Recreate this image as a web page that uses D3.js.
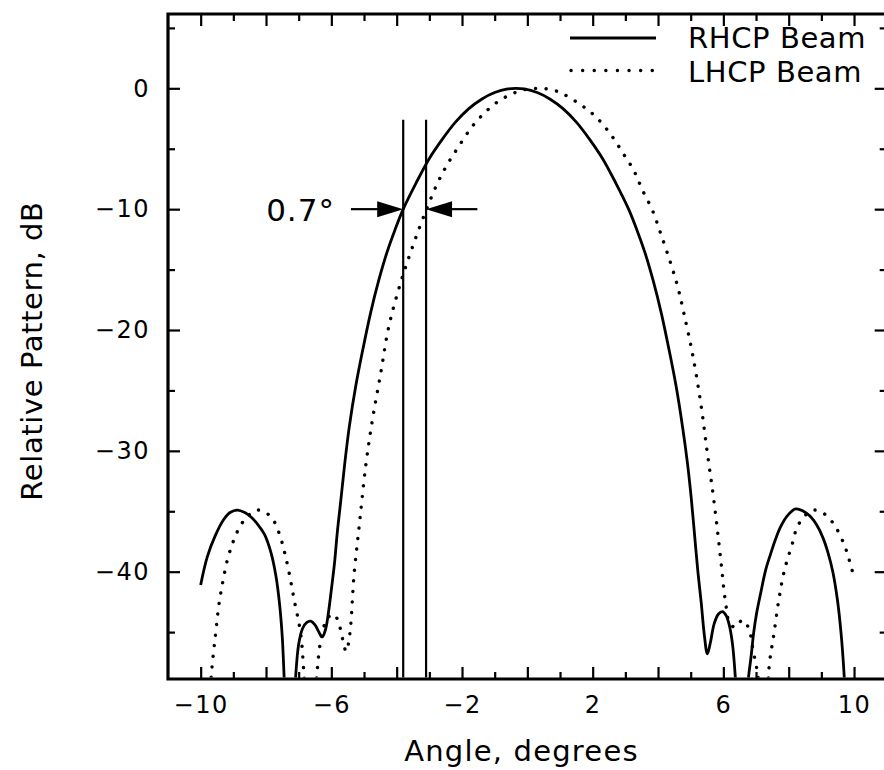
<!DOCTYPE html>
<html>
<head>
<meta charset="utf-8">
<script src="https://cdn.jsdelivr.net/npm/d3@7"></script>
<style>
  html, body { margin: 0; padding: 0; background: #fff; overflow: hidden; }
  svg { display: block; overflow: hidden; }
  text { font-family: "DejaVu Sans", sans-serif; fill: #000; }
</style>
</head>
<body>
<svg id="chart" width="884" height="770"></svg>
<script>
// ---------------- data ----------------
const seriesNames = ["RHCP Beam", "LHCP Beam"];

// RHCP beam: [angle (deg), relative pattern (dB)]
const rhcpBeam = [
  [-10.0,-41.1],[-9.8,-38.8],[-9.55,-37.0],[-9.3,-35.7],[-9.1,-35.1],[-8.88,-34.9],[-8.65,-35.1],
  [-8.45,-35.5],[-8.25,-36.1],[-8.05,-36.9],[-7.85,-38.4],[-7.7,-40.3],[-7.58,-42.8],[-7.5,-45.5],
  [-7.44,-49.0],[-7.27,-58],[-7.1,-49.0],[-7.0,-46.0],[-6.88,-44.7],[-6.75,-44.2],[-6.63,-44.1],
  [-6.5,-44.4],[-6.4,-44.9],[-6.28,-45.4],[-6.18,-44.8],[-6.1,-43.6],[-6.0,-41.5],[-5.9,-39.2],
  [-5.82,-36.8],[-5.71,-34.1],[-5.6,-31.3],[-5.45,-28.0],[-5.25,-24.6],[-5.05,-21.8],[-4.8,-18.6],
  [-4.55,-15.9],[-4.3,-13.6],[-4.05,-11.7],[-3.8,-10.0],[-3.4,-7.8],[-3.0,-5.8],[-2.6,-4.2],
  [-2.2,-2.8],[-1.8,-1.7],[-1.4,-0.9],[-1.0,-0.35],[-0.6,-0.05],[-0.35,0],[-0.1,-0.05],[0.3,-0.35],
  [0.7,-0.9],[1.1,-1.7],[1.5,-2.8],[1.9,-4.2],[2.3,-5.8],[2.7,-7.8],[3.1,-10.0],[3.35,-11.7],
  [3.6,-13.6],[3.85,-15.9],[4.1,-18.6],[4.35,-21.8],[4.55,-24.6],[4.75,-28.0],[4.9,-31.0],
  [5.02,-34.0],[5.12,-37.0],[5.22,-40.0],[5.32,-42.5],[5.42,-45.3],[5.51,-46.8],[5.6,-45.9],
  [5.72,-44.3],[5.85,-43.5],[5.97,-43.3],[6.08,-43.6],[6.18,-44.4],[6.28,-46.0],[6.36,-48.5],
  [6.55,-58],[6.76,-49.0],[6.85,-47.0],[6.93,-45.0],[7.02,-43.4],[7.14,-41.8],[7.3,-39.8],
  [7.45,-38.5],[7.6,-37.3],[7.75,-36.3],[7.95,-35.4],[8.21,-34.8],[8.45,-35.0],[8.65,-35.4],
  [8.85,-36.1],[9.05,-37.2],[9.2,-38.4],[9.35,-40.0],[9.49,-42.3],[9.6,-45.0],[9.7,-48.7],[9.8,-55]
];

// LHCP beam: [angle (deg), relative pattern (dB)]
const lhcpBeam = [
  [-9.72,-50.5],[-9.66,-48.1],[-9.55,-45.3],[-9.45,-42.9],[-9.32,-40.8],[-9.18,-39.0],[-9.03,-37.7],
  [-8.88,-36.7],[-8.6,-35.5],[-8.27,-34.9],[-7.96,-35.2],[-7.76,-35.8],[-7.6,-36.8],[-7.45,-38.2],
  [-7.3,-40.0],[-7.14,-42.3],[-6.94,-45.1],[-6.84,-48.4],[-6.75,-52],[-6.62,-58],[-6.5,-51],
  [-6.43,-48.1],[-6.36,-46.3],[-6.25,-44.7],[-6.1,-43.8],[-5.95,-43.5],[-5.82,-43.9],[-5.7,-45.0],
  [-5.62,-46.0],[-5.55,-46.6],[-5.48,-46.0],[-5.41,-44.5],[-5.36,-42.5],[-5.31,-40.4],[-5.22,-38.0],
  [-5.15,-36.3],[-4.95,-31.3],[-4.74,-27.4],[-4.49,-23.6],[-4.24,-19.7],[-3.88,-16.1],[-3.5,-13.0],
  [-3.1,-10.1],[-2.76,-7.9],[-2.45,-6.3],[-2.1,-4.8],[-1.7,-3.2],[-1.3,-2.0],[-0.9,-1.1],[-0.5,-0.5],
  [-0.1,-0.12],[0.36,0],[0.8,-0.15],[1.15,-0.55],[1.6,-1.3],[1.95,-2.0],[2.25,-2.8],[2.6,-4.0],
  [2.96,-5.5],[3.26,-6.8],[3.52,-8.4],[3.83,-10.1],[4.08,-12.0],[4.39,-14.5],[4.6,-16.4],[4.79,-18.6],
  [5.05,-21.9],[5.31,-26.1],[5.51,-30.2],[5.71,-34.1],[5.92,-39.0],[6.07,-42.6],[6.2,-44.3],
  [6.38,-44.6],[6.58,-44.0],[6.78,-44.7],[6.89,-46.2],[6.99,-47.6],[7.06,-48.6],[7.15,-54],
  [7.26,-58],[7.35,-52],[7.4,-47.9],[7.55,-45.1],[7.7,-42.3],[7.85,-40.1],[7.96,-39.0],[8.11,-37.7],
  [8.26,-36.3],[8.52,-35.3],[8.77,-34.9],[9.08,-35.2],[9.39,-36.1],[9.69,-37.7],[9.85,-39.0],[10.0,-40.5]
];

// axis ticks
const xMajorTicks = [-10, -8, -6, -4, -2, 0, 2, 4, 6, 8, 10];
const xMinorTicks = [-9, -7, -5, -3, -1, 1, 3, 5, 7, 9];
const xLabelTicks = [-10, -6, -2, 2, 6, 10];
const yMajorTicks = [0, -10, -20, -30, -40];
const yMinorTicks = [5, -5, -15, -25, -35, -45];

// annotation: beam separation at -10 dB
const markerAngles = [-3.8, -3.1];
const markerTopDb = -2.6;
const arrowDb = -10;
const arrowTails = [-5.4, -1.53];
const separationLabel = "0.7°";

const xTitle = "Angle, degrees";
const yTitle = "Relative Pattern, dB";

// ---------------- layout ----------------
const W = 884, H = 770;
const pL = 168, pR = 886.7, pT = 14, pB = 679;
const svg = d3.select("#chart");
svg.append("rect").attr("width", W).attr("height", H).attr("fill", "#fff");

const x = d3.scaleLinear().domain([-11, 11]).range([pL, pR]);
const y = d3.scaleLinear().domain([-48.88, 6.15]).range([pB, pT]);

const fmt = d => d < 0 ? "\u2212" + Math.abs(d) : String(d);

function styleAxis(g) {
  g.selectAll(".domain").remove();
  g.selectAll(".tick line").attr("stroke", "#000").attr("stroke-width", 2.2);
  g.selectAll(".tick text")
    .style("font-family", '"DejaVu Sans", sans-serif')
    .style("font-size", "24px")
    .style("letter-spacing", "1.5px")
    .attr("fill", "#000");
}

// clip
svg.append("clipPath").attr("id", "plotclip")
  .append("rect").attr("x", pL).attr("y", pT)
  .attr("width", pR - pL).attr("height", pB - pT - 1.5);

const line = d3.line()
  .x(d => x(d[0])).y(d => y(d[1]))
  .curve(d3.curveCatmullRom.alpha(0.5));

const plot = svg.append("g").attr("clip-path", "url(#plotclip)");

plot.append("path").datum(rhcpBeam)
  .attr("d", line).attr("fill", "none")
  .attr("stroke", "#000").attr("stroke-width", 2.8).attr("stroke-linejoin", "round");

plot.append("path").datum(lhcpBeam)
  .attr("d", line).attr("fill", "none")
  .attr("stroke", "#000").attr("stroke-width", 3.4)
  .attr("stroke-linecap", "round")
  .attr("stroke-dasharray", "0.1 10.5");

// marker lines
plot.selectAll("line.marker").data(markerAngles).join("line")
  .attr("class", "marker")
  .attr("x1", d => x(d)).attr("x2", d => x(d))
  .attr("y1", y(markerTopDb)).attr("y2", pB)
  .attr("stroke", "#000").attr("stroke-width", 2.2);

// arrows
const ay = y(arrowDb);
const headLen = 26, headHalf = 8;
svg.append("line")
  .attr("x1", x(arrowTails[0])).attr("x2", x(markerAngles[0]) - headLen + 2)
  .attr("y1", ay).attr("y2", ay).attr("stroke", "#000").attr("stroke-width", 2.2);
svg.append("path")
  .attr("d", `M${x(markerAngles[0])},${ay} L${x(markerAngles[0]) - headLen},${ay - headHalf} L${x(markerAngles[0]) - headLen},${ay + headHalf} Z`)
  .attr("fill", "#000");
svg.append("line")
  .attr("x1", x(markerAngles[1]) + headLen - 2).attr("x2", x(arrowTails[1]))
  .attr("y1", ay).attr("y2", ay).attr("stroke", "#000").attr("stroke-width", 2.2);
svg.append("path")
  .attr("d", `M${x(markerAngles[1])},${ay} L${x(markerAngles[1]) + headLen},${ay - headHalf} L${x(markerAngles[1]) + headLen},${ay + headHalf} Z`)
  .attr("fill", "#000");

svg.append("text")
  .attr("x", x(arrowTails[0]) - 16).attr("y", ay + 12)
  .attr("text-anchor", "end")
  .style("font-size", "31px")
  .style("letter-spacing", "1px")
  .text(separationLabel);

// legend
const legend = svg.append("g");
legend.append("line").attr("x1", 570).attr("x2", 656).attr("y1", 38).attr("y2", 38)
  .attr("stroke", "#000").attr("stroke-width", 2.8);
legend.append("line").attr("x1", 571).attr("x2", 656).attr("y1", 70.5).attr("y2", 70.5)
  .attr("stroke", "#000").attr("stroke-width", 3.4)
  .attr("stroke-linecap", "round").attr("stroke-dasharray", "0.1 11.5");
legend.selectAll("text.leg").data(seriesNames).join("text")
  .attr("class", "leg")
  .attr("x", 688).attr("y", (d, i) => 48 + i * 33.5)
  .style("font-size", "29px")
  .style("letter-spacing", "0.6px")
  .text(d => d);

// axis titles
svg.append("text")
  .attr("x", (pL + 875) / 2).attr("y", 761)
  .attr("text-anchor", "middle")
  .style("font-size", "29px")
  .style("letter-spacing", "1.2px")
  .text(xTitle);

svg.append("text")
  .attr("transform", `translate(42,${351}) rotate(-90)`)
  .attr("text-anchor", "middle")
  .style("font-size", "29px")
  .style("letter-spacing", "0.6px")
  .text(yTitle);

// clean strip along the right picture edge (frame edge lies just outside)
svg.append("rect").attr("x", 872).attr("y", 0).attr("width", 20).attr("height", H).attr("fill", "#fff");

// bottom axis
svg.append("g").attr("transform", `translate(0,${pB})`)
  .call(d3.axisBottom(x).tickValues(xMajorTicks).tickSizeInner(-12).tickSizeOuter(0).tickPadding(17)
    .tickFormat(d => xLabelTicks.includes(d) ? fmt(d) : ""))
  .call(styleAxis);
svg.append("g").attr("transform", `translate(0,${pB})`)
  .call(d3.axisBottom(x).tickValues(xMinorTicks).tickSizeInner(-7).tickSizeOuter(0).tickFormat(""))
  .call(styleAxis);
// top axis
svg.append("g").attr("transform", `translate(0,${pT})`)
  .call(d3.axisTop(x).tickValues(xMajorTicks).tickSizeInner(-12).tickSizeOuter(0).tickFormat(""))
  .call(styleAxis);
svg.append("g").attr("transform", `translate(0,${pT})`)
  .call(d3.axisTop(x).tickValues(xMinorTicks).tickSizeInner(-7).tickSizeOuter(0).tickFormat(""))
  .call(styleAxis);
// left axis
svg.append("g").attr("transform", `translate(${pL},0)`)
  .call(d3.axisLeft(y).tickValues(yMajorTicks).tickSizeInner(-12).tickSizeOuter(0).tickPadding(18).tickFormat(fmt))
  .call(styleAxis);
svg.append("g").attr("transform", `translate(${pL},0)`)
  .call(d3.axisLeft(y).tickValues(yMinorTicks).tickSizeInner(-7).tickSizeOuter(0).tickFormat(""))
  .call(styleAxis);
// right axis ticks
svg.append("g").attr("transform", `translate(${pR},0)`)
  .call(d3.axisRight(y).tickValues(yMajorTicks).tickSizeInner(-12).tickSizeOuter(0).tickFormat(""))
  .call(styleAxis);
svg.append("g").attr("transform", `translate(${pR},0)`)
  .call(d3.axisRight(y).tickValues(yMinorTicks).tickSizeInner(-7).tickSizeOuter(0).tickFormat(""))
  .call(styleAxis);

// frame: left, top, bottom
svg.append("path")
  .attr("d", `M${W + 2},${pT} L${pL},${pT} L${pL},${pB} L${W + 2},${pB}`)
  .attr("fill", "none").attr("stroke", "#000").attr("stroke-width", 3.2);
</script>
</body>
</html>
